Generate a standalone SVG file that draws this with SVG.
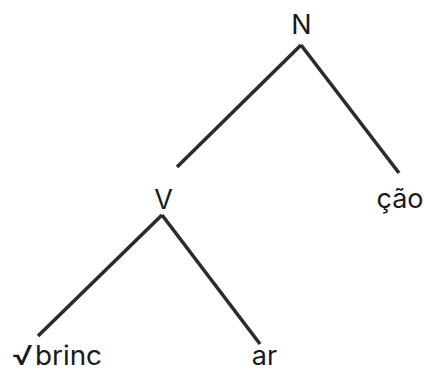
<svg xmlns="http://www.w3.org/2000/svg" width="424" height="372" viewBox="0 0 424 372">
<style>
text{font-family:Inter,"Noto Sans","DejaVu Sans",sans-serif;font-size:27px;fill:#1a1a1a}
.e{stroke:#2b2b2b;stroke-width:3.6;stroke-linecap:butt;fill:none}
</style>
<rect width="424" height="372" fill="#fff"/>
<g id="connectors">
<line class="e" x1="301" y1="45" x2="177" y2="167"/>
<line class="e" x1="301" y1="45" x2="399" y2="173"/>
<line class="e" x1="162" y1="215" x2="38" y2="336"/>
<line class="e" x1="162" y1="215" x2="260" y2="344"/>
</g>
<g id="node-N"><text x="301.5" y="34" text-anchor="middle">N</text></g>
<g id="node-V"><text x="163.5" y="209" text-anchor="middle">V</text></g>
<g id="node-cao"><text x="400" y="208" text-anchor="middle">ção</text></g>
<g id="node-brinc"><text x="12" y="365"><tspan textLength="21" lengthAdjust="spacingAndGlyphs">√</tspan><tspan x="35" textLength="67" lengthAdjust="spacingAndGlyphs">brinc</tspan></text></g>
<g id="node-ar"><text x="264.5" y="365" text-anchor="middle">ar</text></g>
</svg>
